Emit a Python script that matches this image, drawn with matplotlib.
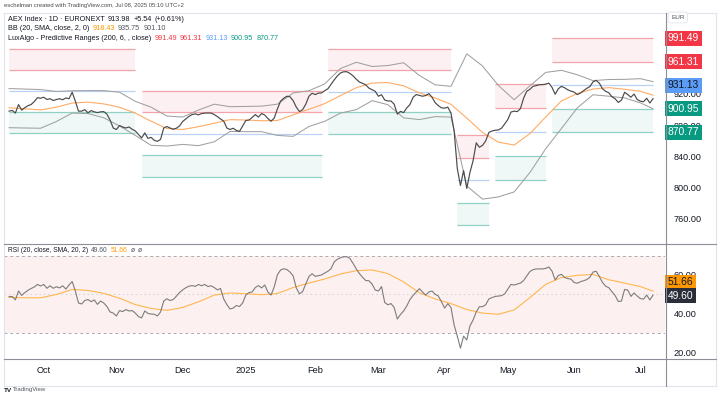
import numpy as np
import matplotlib.pyplot as plt
from matplotlib.lines import Line2D
from matplotlib.transforms import blended_transform_factory

plt.rcParams['font.family'] = ['Liberation Sans', 'DejaVu Sans']

# AEX daily closes, one per trading day (16 Sep 2024 -> 7 Jul 2025)
close = [
    898.0, 898.9, 895.5, 906.4, 899.3, 902.5, 905.0, 906.5, 910.3, 915.2,
    914.5, 915.8, 912.9, 913.9, 911.6, 912.9, 913.9, 912.6, 914.9, 913.9,
    922.2, 910.7, 898.0, 898.0, 899.9, 895.9, 898.7, 897.1, 896.1, 897.1,
    897.4, 894.2, 886.6, 876.4, 874.5, 879.6, 877.7, 876.4, 877.7, 874.8,
    872.6, 868.2, 863.7, 870.1, 863.1, 864.4, 860.6, 859.3, 861.8, 876.4,
    878.3, 876.4, 874.8, 876.1, 879.0, 884.7, 888.1, 891.3, 893.6, 894.5,
    893.2, 894.9, 895.5, 895.6, 895.5, 893.6, 891.0, 887.9, 885.3, 876.4,
    874.5, 876.1, 873.3, 872.0, 879.0, 886.0, 886.6, 889.8, 893.6, 890.4,
    894.9, 893.0, 888.5, 885.1, 889.1, 900.6, 910.7, 914.5, 917.1, 916.4,
    911.4, 903.1, 897.4, 899.9, 906.9, 917.1, 920.9, 919.2, 921.1, 921.3,
    924.1, 926.6, 932.3, 938.0, 943.1, 946.9, 948.4, 948.5, 946.3, 943.1,
    938.9, 935.2, 933.6, 931.7, 927.5, 925.5, 923.4, 917.1, 919.0, 912.3,
    911.0, 911.0, 906.9, 894.2, 897.7, 896.1, 902.2, 906.5, 915.8, 919.2,
    918.1, 917.1, 918.0, 920.5, 915.8, 908.8, 905.0, 902.2, 901.8, 903.1,
    895.5, 872.6, 824.4, 802.8, 821.8, 799.0, 819.3, 834.5, 857.4, 851.7,
    854.2, 859.9, 870.7, 872.6, 873.5, 873.9, 876.1, 881.5, 887.2, 896.8,
    898.0, 897.4, 901.2, 914.5, 923.4, 926.0, 929.8, 930.7, 931.8, 931.9,
    932.6, 933.8, 928.5, 919.6, 926.6, 929.8, 927.9, 925.3, 923.7, 922.4,
    919.2, 921.1, 924.1, 927.2, 929.4, 935.5, 937.4, 933.8, 926.6, 923.4,
    921.5, 916.4, 913.9, 909.1, 912.0, 922.2, 919.2, 915.8, 919.9, 912.9,
    910.7, 910.1, 914.5, 908.4, 913.98,
]

rsi = [
    48.8, 48.9, 47.1, 51.7, 49.4, 50.9, 52.1, 53.0, 53.8, 55.1,
    54.3, 55.1, 53.1, 54.4, 53.1, 53.9, 53.3, 54.4, 52.7, 54.8,
    56.6, 51.7, 45.5, 45.0, 46.8, 47.3, 46.2, 47.1, 44.8, 46.5,
    45.5, 43.7, 40.9, 40.3, 38.8, 41.6, 41.1, 42.1, 41.4, 41.6,
    40.3, 38.5, 37.8, 41.4, 40.1, 39.8, 39.7, 38.8, 40.9, 46.5,
    47.7, 46.8, 47.3, 49.0, 50.9, 52.3, 53.4, 54.2, 54.5, 54.1,
    55.1, 54.4, 55.1, 54.0, 54.4, 53.5, 52.3, 53.0, 47.6, 44.7,
    42.4, 42.9, 44.2, 43.7, 45.5, 49.6, 50.9, 51.2, 53.5, 54.5,
    53.3, 54.8, 51.2, 49.6, 53.8, 60.0, 62.5, 63.2, 62.8, 61.5,
    59.5, 53.3, 50.2, 51.4, 55.3, 59.2, 60.6, 59.3, 59.6, 60.0,
    61.0, 61.9, 63.2, 66.7, 68.1, 68.9, 69.4, 69.4, 68.5, 65.9,
    63.1, 60.7, 58.8, 57.1, 57.0, 55.3, 52.2, 51.7, 54.0, 45.8,
    44.6, 45.2, 43.2, 37.2, 39.6, 41.4, 44.0, 47.3, 49.4, 51.2,
    52.9, 51.2, 49.6, 51.2, 51.7, 50.0, 49.1, 46.1, 42.9, 45.2,
    43.2, 34.1, 28.4, 22.2, 28.4, 26.4, 33.6, 36.7, 40.9, 43.6,
    43.6, 44.6, 47.6, 48.3, 48.9, 49.1, 49.3, 50.2, 52.7, 55.1,
    54.8, 55.3, 55.8, 57.1, 59.5, 61.8, 62.7, 63.1, 63.1, 63.1,
    63.4, 64.1, 62.0, 57.4, 59.7, 60.3, 58.7, 58.1, 57.9, 56.1,
    55.7, 56.5, 57.0, 57.6, 58.8, 61.5, 61.9, 59.2, 56.1, 54.2,
    53.4, 51.3, 49.4, 46.3, 46.5, 52.5, 52.2, 48.9, 50.7, 49.1,
    47.8, 47.5, 49.6, 47.1, 49.6,
]

# smooth lines read every 5th trading day
band_idx = list(range(0, 201, 5)) + [204]
bb_upper = [
    926.9, 926.3, 925.6, 923.2, 924.1, 924.3, 924.3, 922.2, 910.5, 903.1,
    891.7, 890.4, 899.4, 906.9, 903.7, 904.0, 904.4, 906.9, 921.3, 924.1,
    932.9, 952.6, 960.6, 955.2, 956.4, 960.0, 943.7, 931.7, 929.8, 971.4,
    955.8, 931.0, 912.6, 930.4, 947.6, 950.3, 944.6, 937.1, 938.5, 938.7,
    939.6, 935.75,
]
bb_basis = [
    902.2, 901.0, 899.6, 903.1, 908.4, 909.5, 907.3, 903.0, 895.5, 885.0,
    875.8, 874.5, 878.0, 882.5, 887.1, 886.6, 885.7, 886.0, 893.2, 900.3,
    907.7, 918.0, 928.0, 934.0, 934.6, 930.4, 921.4, 914.9, 906.7, 889.1,
    870.7, 858.3, 854.6, 869.2, 890.4, 911.1, 920.6, 926.3, 928.1, 926.0,
    923.4, 918.43,
]
bb_lower = [
    876.8, 876.4, 876.1, 884.7, 895.5, 894.9, 889.5, 879.0, 866.9, 854.2,
    853.3, 855.4, 853.8, 858.7, 872.0, 871.7, 871.7, 866.9, 865.7, 878.3,
    885.0, 895.5, 899.9, 911.4, 906.3, 889.4, 887.2, 891.0, 890.4, 802.2,
    785.3, 788.1, 794.5, 819.3, 849.8, 875.8, 902.1, 919.0, 917.1, 914.9,
    908.6, 901.1,
]
rsi_sma = [
    48.4, 48.2, 48.2, 49.9, 52.5, 52.0, 50.5, 48.0, 44.7, 42.7,
    41.7, 43.2, 46.1, 49.6, 50.7, 50.3, 49.8, 50.4, 53.5, 55.8,
    57.9, 60.5, 62.2, 62.6, 60.7, 56.4, 50.8, 47.6, 45.2, 42.1,
    40.3, 39.7, 41.9, 48.3, 55.1, 58.7, 59.8, 60.3, 57.5, 55.8,
    54.0, 51.66,
]

# LuxAlgo predictive ranges: one row per segment
seg_start = [0, 42, 101, 142, 154, 172]
seg_end = [40, 99, 140, 152, 170, 204]
pr_r2 = [977.7, 924.3, 977.7, 867.2, 933.2, 991.49]
pr_r1 = [951.0, 896.8, 950.1, 838.3, 901.5, 961.31]
pr_avg = [924.3, 869.2, 923.0, 810.0, 871.4, 931.13]
pr_s1 = [897.1, 841.8, 896.4, 780.8, 840.5, 900.95]
pr_s2 = [870.1, 814.2, 869.2, 752.0, 810.0, 870.77]

month_idx = [11, 34, 55, 75, 97, 117, 138, 158, 179, 200]
month_labels = ['Oct', 'Nov', 'Dec', '2025', 'Feb', 'Mar', 'Apr', 'May', 'Jun', 'Jul']

W, H = 720, 398
fig = plt.figure(figsize=(7.2, 3.98), dpi=100)
fig.patch.set_facecolor('white')

ax = fig.add_axes([4 / W, 1 - 243 / H, 661 / W, 230 / H])
axr = fig.add_axes([4 / W, 1 - 358 / H, 661 / W, 115 / H])
ax.patch.set_alpha(0)
axr.patch.set_alpha(0)

days = np.arange(len(close))
TXT = '#131722'

# predictive ranges
for s, e, r2, r1, av, s1, s2 in zip(seg_start, seg_end, pr_r2, pr_r1, pr_avg, pr_s1, pr_s2):
    ax.fill_between([s, e], [r1, r1], [r2, r2], color='#fdf0f2', lw=0, zorder=1)
    ax.fill_between([s, e], [s2, s2], [s1, s1], color='#eff8f6', lw=0, zorder=1)
    ax.hlines([r2, r1], s, e, color='#f5a3aa', lw=0.9, zorder=2)
    ax.hlines([av], s, e, color='#b9d1f6', lw=0.9, zorder=2)
    ax.hlines([s1, s2], s, e, color='#8fd1c4', lw=0.9, zorder=2)

ax.plot(band_idx, bb_upper, color='#a0a0a0', lw=0.75, zorder=3)
ax.plot(band_idx, bb_lower, color='#a0a0a0', lw=0.75, zorder=3)
ax.plot(band_idx, bb_basis, color='#ffac66', lw=0.8, zorder=3)
ax.plot(days, close, color='#4a4a4a', lw=0.85, zorder=4)

ax.set_xlim(-1.6, 207.8)
ax.set_ylim(729.1, 1023.7)
ax.set_xticks([])
ax.yaxis.tick_right()
price_ticks = [760, 800, 840, 880, 920]
ax.set_yticks(price_ticks)
ax.set_yticklabels([f'{v:.2f}' for v in price_ticks])
ax.tick_params(axis='y', length=0, pad=6, labelsize=6.6, labelcolor=TXT)
for sp in ax.spines.values():
    sp.set_visible(False)

# RSI pane
axr.axhspan(30, 70, color='#fdf0f1', lw=0, zorder=0)
axr.axhline(70, color='#a8abb3', lw=0.7, ls=(0, (3, 3)), zorder=1)
axr.axhline(30, color='#a8abb3', lw=0.7, ls=(0, (3, 3)), zorder=1)
axr.axhline(50, color='#cfd1d6', lw=0.7, ls=(0, (1.5, 3)), zorder=1)
axr.plot(days, rsi, color='#7c7c7c', lw=0.8, zorder=3)
axr.plot(band_idx, rsi_sma, color='#ffb74d', lw=0.8, zorder=2)
axr.set_xlim(-1.6, 207.8)
axr.set_ylim(17.1, 76.5)
axr.yaxis.tick_right()
rsi_ticks = [20, 40, 60]
axr.set_yticks(rsi_ticks)
axr.set_yticklabels([f'{v:.2f}' for v in rsi_ticks])
axr.tick_params(axis='y', length=0, pad=6, labelsize=6.6, labelcolor=TXT)
axr.set_xticks(month_idx)
axr.set_xticklabels(month_labels)
axr.tick_params(axis='x', length=0, pad=6, labelsize=6.6, labelcolor=TXT)
for sp in axr.spines.values():
    sp.set_visible(False)

# value boxes on the price scale
tr = blended_transform_factory(ax.transAxes, ax.transData)
boxes = [(pr_r2[-1], '#f23645', 'white'), (pr_r1[-1], '#f23645', 'white'),
         (pr_avg[-1], '#5b9cf6', TXT), (pr_s1[-1], '#089981', 'white'),
         (pr_s2[-1], '#089981', 'white')]
for v, bg, fg in boxes:
    ax.text(1.0045, v, f'{v:.2f}', transform=tr, ha='left', va='center', fontsize=7.4,
            color=fg, zorder=10, clip_on=False,
            bbox=dict(boxstyle='square,pad=0.25', fc=bg, ec='none'))

trr = blended_transform_factory(axr.transAxes, axr.transData)
axr.text(1.0045, rsi_sma[-1] + 4.6, f'{rsi_sma[-1]:.2f}', transform=trr, ha='left', va='center',
         fontsize=7.4, color=TXT, clip_on=False, zorder=10,
         bbox=dict(boxstyle='square,pad=0.25', fc='#ff9800', ec='none'))
axr.text(1.0045, rsi[-1] - 0.4, f'{rsi[-1]:.2f}', transform=trr, ha='left', va='center',
         fontsize=7.4, color='white', clip_on=False, zorder=10,
         bbox=dict(boxstyle='square,pad=0.25', fc='#2a2e39', ec='none'))

# frame lines
def hline(py, x0, x1, color, lw=0.8):
    fig.add_artist(Line2D([x0 / W, x1 / W], [1 - py / H, 1 - py / H], color=color, lw=lw))

def vline(px, y0, y1, color, lw=0.8):
    fig.add_artist(Line2D([px / W, px / W], [1 - y0 / H, 1 - y1 / H], color=color, lw=lw))

hline(13, 4, 716, '#e0e3eb')
hline(386, 4, 716, '#e0e3eb')
vline(4, 13, 386, '#e0e3eb')
vline(716, 13, 386, '#e0e3eb')
hline(243.5, 4, 716, '#8c8f98')
hline(358.5, 4, 716, '#8c8f98')
vline(665.5, 13, 386, '#8c8f98')

fig.text(671 / W, 1 - 17.5 / H, 'EUR', fontsize=4.6, color='#50535e', va='center', ha='left',
         bbox=dict(boxstyle='round,pad=0.45,rounding_size=0.3', fc='white', ec='#e0e3eb', lw=0.6))

# header and legends
fig.text(4 / W, 1 - 6 / H, 'eschelman created with TradingView.com, Jul 08, 2025 05:10 UTC+2',
         fontsize=4.2, color='#4a4a4a', va='center', ha='left')


def legend_line(host, px, py, parts, size=5.2):
    prev = fig.text(px / W, 1 - py / H, parts[0][0], fontsize=size, color=parts[0][1],
                    va='center', ha='left')
    for s, c in parts[1:]:
        prev = host.annotate(s, xy=(1, 0.5), xycoords=prev, xytext=(2.2, 0),
                             textcoords='offset points', fontsize=size, color=c,
                             va='center', ha='left', annotation_clip=False, clip_on=False,
                             zorder=20)


legend_line(ax, 8, 19.5, [('AEX Index · 1D · EURONEXT', TXT), ('913.98', TXT), ('+5.54', TXT),
                          ('(+0.61%)', TXT)])
legend_line(ax, 8, 29, [('BB (20, SMA, close, 2, 0)', TXT), (f'{bb_basis[-1]:.2f}', '#ff9800'),
                        (f'{bb_upper[-1]:.2f}', '#50535e'), (f'{bb_lower[-1]:.2f}', '#50535e')])
legend_line(ax, 8, 38.5, [('LuxAlgo - Predictive Ranges (200, 6, , close)', TXT),
                          ('991.49', '#f23645'), ('961.31', '#f23645'), ('931.13', '#5b9cf6'),
                          ('900.95', '#089981'), ('870.77', '#089981')])
legend_line(axr, 8, 251, [('RSI (20, close, SMA, 20, 2)', TXT), ('49.60', '#50535e'),
                          ('51.66', '#ff9800'), ('ø', '#50535e'), ('ø', '#50535e')], size=4.8)

fig.text(4 / W, 1 - 390 / H, 'TV', fontsize=4.6, fontweight='bold', color=TXT, va='center')
fig.text(13 / W, 1 - 390 / H, 'TradingView', fontsize=4.3, color='#50535e', va='center')

fig.savefig('out.png', dpi=100, facecolor='white')
